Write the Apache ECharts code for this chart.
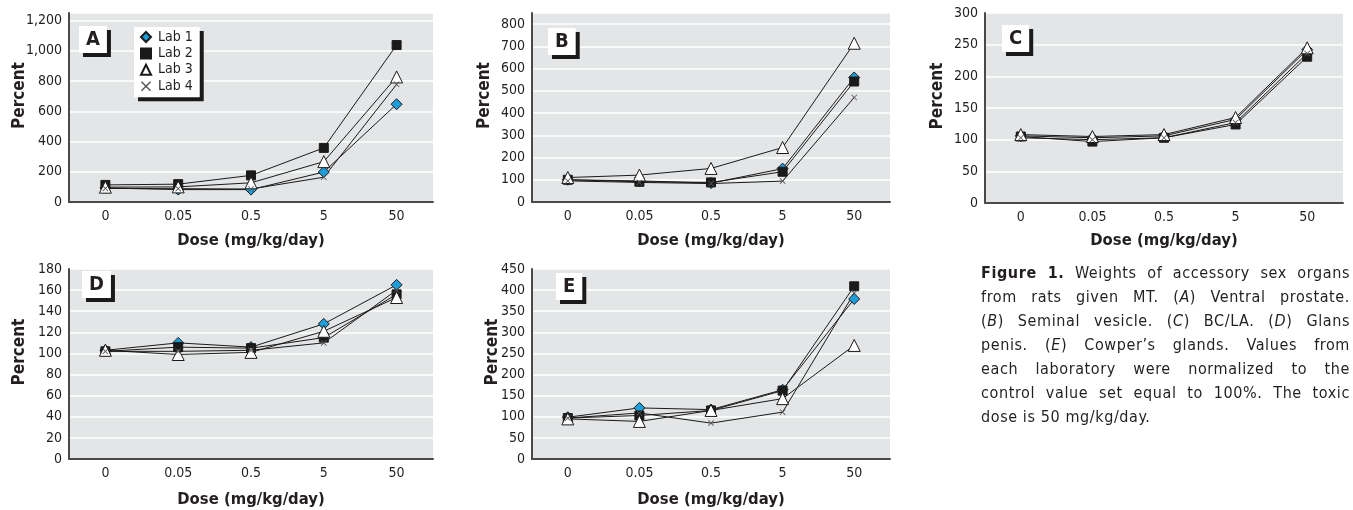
<!DOCTYPE html>
<html>
<head>
<meta charset="utf-8">
<script src="https://cdn.jsdelivr.net/npm/echarts@6/dist/echarts.min.js"></script>
<style>
  html, body { margin: 0; padding: 0; background: #fff; }
  #chart { width: 1353px; height: 510px; }
  .caption {
    position: absolute; left: 981px; top: 261px; width: 369px;
    font-family: 'DejaVu Sans Condensed', 'Liberation Sans Narrow', sans-serif;
    font-size: 16px; line-height: 24px; color: #231f20; letter-spacing: 0.6px;
  }
  .caption div { text-align: justify; text-align-last: justify; white-space: nowrap; }
  .caption div.last { text-align-last: left; }
</style>
</head>
<body>
<div id="chart"></div>
<div class="caption">
  <div><b>Figure 1.</b> Weights of accessory sex organs</div>
  <div>from rats given MT. (<i>A</i>) Ventral prostate.</div>
  <div>(<i>B</i>) Seminal vesicle. (<i>C</i>) BC/LA. (<i>D</i>) Glans</div>
  <div>penis. (<i>E</i>) Cowper’s glands. Values from</div>
  <div>each laboratory were normalized to the</div>
  <div>control value set equal to 100%. The toxic</div>
  <div class="last">dose is 50 mg/kg/day.</div>
</div>
<script>
const doses = ['0', '0.05', '0.5', '5', '50']
const labs = ['Lab 1', 'Lab 2', 'Lab 3', 'Lab 4']

// percent of control, read per panel, order Lab 1..Lab 4
const ventralProstate = [
  [93, 82, 82, 198, 647],
  [113, 118, 176, 358, 1038],
  [98, 100, 127, 267, 827],
  [90, 88, 86, 164, 778]
]
const seminalVesicle = [
  [100, 95, 85, 150, 560],
  [100, 91, 88, 136, 542],
  [110, 121, 151, 245, 714],
  [95, 88, 83, 94, 470]
]
const bcla = [
  [106, 103, 106, 132, 242],
  [105, 97, 103, 124, 231],
  [108, 105, 108, 135, 245],
  [103, 100, 103, 127, 236]
]
const glansPenis = [
  [103, 110, 106, 128, 165],
  [102, 106, 105, 115, 156],
  [103, 99, 101, 121, 153],
  [102, 102, 103, 110, 160]
]
const cowpers = [
  [99, 121, 117, 164, 379],
  [97, 103, 115, 162, 409],
  [95, 89, 115, 143, 269],
  [97, 109, 85, 111, 393]
]

const panelLetters = ['A', 'B', 'C', 'D', 'E']
const panelData = [ventralProstate, seminalVesicle, bcla, glansPenis, cowpers]
const yMax = [1250, 850, 300, 180, 450]
const yStep = [200, 100, 50, 20, 50]

const FONT = "'DejaVu Sans Condensed', 'Liberation Sans Narrow', sans-serif"
const INK = '#231f20'
const crossPath = 'path://M0,1L1,0L5,4L9,0L10,1L6,5L10,9L9,10L5,6L1,10L0,9L4,5Z'

const grids = [
  { left: 69, top: 13, width: 364, height: 189 },
  { left: 532, top: 13, width: 358, height: 189 },
  { left: 985, top: 13, width: 358, height: 190 },
  { left: 69, top: 269, width: 364, height: 190 },
  { left: 532, top: 269, width: 358, height: 190 }
]
const yNameGap = [41, 39, 39, 41, 31]
const xNameGap = [30, 30, 29, 32, 32]
const labelPos = [[79, 26], [548, 28], [1002, 25], [82, 271], [556, 273]]

const labStyles = [
  { symbol: 'diamond', symbolSize: 11, itemStyle: { color: '#1b9ed9', borderColor: '#1a1a1a', borderWidth: 1 } },
  { symbol: 'rect', symbolSize: 9, itemStyle: { color: '#1a1a1a', borderColor: '#1a1a1a', borderWidth: 1 } },
  { symbol: 'triangle', symbolSize: 12, itemStyle: { color: '#fff', borderColor: '#1a1a1a', borderWidth: 1 } },
  { symbol: crossPath, symbolSize: 6, itemStyle: { color: '#555', borderWidth: 0 } }
]

const chart = echarts.init(document.getElementById('chart'))

const xAxis = grids.map((g, i) => ({
  type: 'category', gridIndex: i, data: doses, boundaryGap: true,
  name: 'Dose (mg/kg/day)', nameLocation: 'middle', nameGap: xNameGap[i],
  nameMoveOverlap: false,
  nameTextStyle: { fontFamily: FONT, fontWeight: 'bold', fontSize: 16.5, color: INK },
  axisLine: { lineStyle: { color: '#4a4a4a', width: 2 } },
  axisTick: { show: false },
  axisLabel: { fontFamily: FONT, fontSize: 14, color: INK, margin: 7 },
  splitLine: { show: false }
}))

const yAxis = grids.map((g, i) => ({
  type: 'value', gridIndex: i, min: 0, max: yMax[i], interval: yStep[i],
  name: 'Percent', nameLocation: 'middle', nameGap: yNameGap[i],
  nameMoveOverlap: false,
  nameTextStyle: { fontFamily: FONT, fontWeight: 'bold', fontSize: 17, color: INK, padding: [0, 0, 0, 24] },
  axisLine: { show: true, lineStyle: { color: '#4a4a4a', width: 2 } },
  axisTick: { show: false },
  axisLabel: {
    fontFamily: FONT, fontSize: 14, color: INK, margin: 7,
    showMaxLabel: yMax[i] % yStep[i] === 0,
    formatter: v => v.toLocaleString('en-US')
  },
  splitLine: { lineStyle: { color: '#fff', width: 1.5 } }
}))

const series = []
panelData.forEach((panel, p) => {
  panel.forEach((vals, l) => {
    series.push({
      name: labs[l], type: 'line', xAxisIndex: p, yAxisIndex: p,
      data: vals, symbol: labStyles[l].symbol, symbolSize: labStyles[l].symbolSize,
      itemStyle: labStyles[l].itemStyle,
      lineStyle: { color: '#1a1a1a', width: 1 },
      showAllSymbol: true, animation: false
    })
  })
})

const title = panelLetters.map((t, i) => ({
  text: t, left: labelPos[i][0], top: labelPos[i][1],
  padding: [4, 7, 3, 7],
  backgroundColor: '#fff', shadowColor: '#1a1a1a', shadowBlur: 0, shadowOffsetX: 4, shadowOffsetY: 4,
  textStyle: { fontFamily: FONT, fontWeight: 'bold', fontSize: 20, color: INK }
}))

chart.setOption({
  animation: false,
  title,
  grid: grids.map(g => ({ ...g, show: true, backgroundColor: '#e4e5e7', borderWidth: 0 })),
  xAxis,
  yAxis,
  legend: {
    orient: 'vertical', left: 134, top: 27,
    padding: [3, 7, 4, 6], itemGap: 2.4, itemWidth: 10, itemHeight: 10,
    backgroundColor: '#fff', shadowColor: '#1a1a1a', shadowBlur: 0, shadowOffsetX: 4, shadowOffsetY: 4,
    textStyle: { fontFamily: FONT, fontSize: 14, lineHeight: 14, color: INK, padding: [0, 0, 0, 2] },
    data: labs.map((n, l) => ({ name: n, icon: labStyles[l].symbol }))
  },
  series
})
</script>
</body>
</html>
